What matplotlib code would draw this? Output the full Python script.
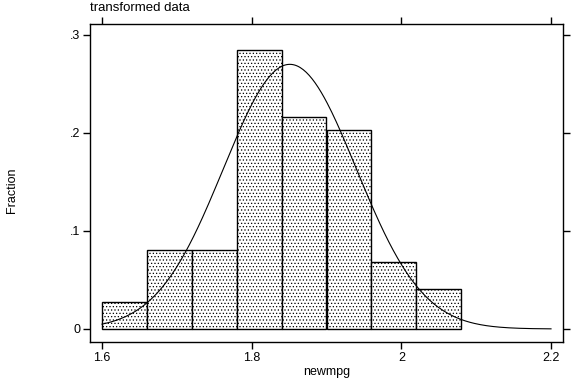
import numpy as np
import matplotlib
matplotlib.use('Agg')
import matplotlib.pyplot as plt

plt.rcParams['font.family'] = ['Liberation Sans', 'DejaVu Sans']
plt.rcParams['hatch.linewidth'] = 0.5

# histogram of newmpg (bin edges and fractions)
bin_edges = [1.60, 1.66, 1.72, 1.78, 1.84, 1.90, 1.96, 2.02, 2.08]
fractions = [0.027, 0.081, 0.081, 0.284, 0.216, 0.203, 0.068, 0.041]

# normal overlay
mu = 1.851
sigma = 0.0887
curve_lo, curve_hi = 1.6, 2.2

xticks = [1.6, 1.8, 2.0, 2.2]
xticklabels = ['1.6', '1.8', '2', '2.2']
yticks = [0, 0.1, 0.2, 0.3]
yticklabels = ['0', '.1', '.2', '.3']

fig = plt.figure(figsize=(5.76, 3.84), dpi=100)
ax = fig.add_axes([90/576, 1-342/384, (563-90)/576, (342-24)/384])

widths = np.diff(bin_edges)
ax.bar(bin_edges[:-1], fractions, width=widths, align='edge',
       facecolor='white', edgecolor='black', linewidth=1.0, hatch='.....')

binw = widths[0]
xs = np.linspace(curve_lo, curve_hi, 300)
ys = binw / (sigma*np.sqrt(2*np.pi)) * np.exp(-0.5*((xs-mu)/sigma)**2)
ax.plot(xs, ys, color='black', lw=0.8)

ax.set_xlim(1.584, 2.216)
ax.set_ylim(-0.0133, 0.311)
ax.set_xticks(xticks)
ax.set_xticklabels(xticklabels)
ax.set_yticks(yticks)
ax.set_yticklabels(yticklabels)
ax.tick_params(direction='out', length=5, width=1, labelsize=9,
               top=True, right=True, color='black', pad=2)
for s in ax.spines.values():
    s.set_linewidth(1.0)

ax.set_xlabel('newmpg', fontsize=9, labelpad=2)
fig.text(12/576, 1-190/384, 'Fraction', rotation=90, fontsize=9,
         ha='center', va='center')
fig.text(90/576, 1-8/384, 'transformed data', fontsize=9.5, ha='left', va='center')

fig.savefig('out.png', dpi=100)
